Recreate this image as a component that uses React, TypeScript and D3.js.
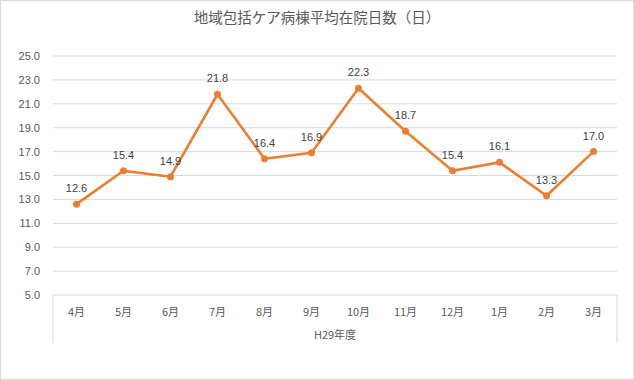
import React from "react";
import * as d3 from "d3";

const categories = ["4月", "5月", "6月", "7月", "8月", "9月", "10月", "11月", "12月", "1月", "2月", "3月"];
const values = [12.6, 15.4, 14.9, 21.8, 16.4, 16.9, 22.3, 18.7, 15.4, 16.1, 13.3, 17.0];
const yTicks = [5, 7, 9, 11, 13, 15, 17, 19, 21, 23, 25];
const title = "地域包括ケア病棟平均在院日数（日）";
const groupLabel = "H29年度";

const W = 634;
const H = 380;
const left = 53;
const right = 617;
const top = 56;
const bottom = 295;
const FONT = "'Liberation Sans', 'Noto Sans CJK JP', sans-serif";
const JFONT = "'Noto Sans CJK JP', sans-serif";

export default function App() {
  const x = d3.scaleBand<string>().domain(categories).range([left, right]);
  const y = d3.scaleLinear().domain([5, 25]).range([bottom, top]);
  const line = d3
    .line<number>()
    .x((_, i) => (x(categories[i]) as number) + x.bandwidth() / 2)
    .y((d) => y(d));

  return (
    <svg
      width={W}
      height={H}
      style={{ position: "absolute", left: 0, top: 0, background: "#fff" }}
    >
      <rect x={0.5} y={0.5} width={W - 1} height={H - 1} fill="#fff" stroke="#d9d9d9" />
      <text
        x={W / 2}
        y={23}
        textAnchor="middle"
        fontFamily={JFONT}
        fontSize={14.5}
        fill="#595959"
      >
        {title}
      </text>
      {yTicks.map((t) => (
        <g key={t}>
          {t !== 5 && (
            <line x1={left} x2={right} y1={y(t)} y2={y(t)} stroke="#d9d9d9" strokeWidth={1} />
          )}
          <text
            x={40}
            y={y(t) + 4}
            textAnchor="end"
            fontFamily={FONT}
            fontSize={11}
            fill="#595959"
          >
            {t.toFixed(1)}
          </text>
        </g>
      ))}
      {/* category axis box */}
      <line x1={left} x2={right} y1={bottom} y2={bottom} stroke="#d9d9d9" />
      <line x1={left} x2={left} y1={bottom} y2={343} stroke="#d9d9d9" />
      <line x1={right} x2={right} y1={bottom} y2={343} stroke="#d9d9d9" />
      {categories.map((c) => (
        <text
          key={c}
          x={(x(c) as number) + x.bandwidth() / 2}
          y={316}
          textAnchor="middle"
          fontFamily={JFONT}
          fontSize={11}
          fill="#595959"
        >
          {c}
        </text>
      ))}
      <text
        x={(left + right) / 2}
        y={339}
        textAnchor="middle"
        fontFamily={JFONT}
        fontSize={11}
        fill="#595959"
      >
        {groupLabel}
      </text>
      <path
        d={line(values) || ""}
        fill="none"
        stroke="#ED7D31"
        strokeWidth={2.6}
        strokeLinejoin="round"
      />
      {values.map((v, i) => {
        const cx = (x(categories[i]) as number) + x.bandwidth() / 2;
        return (
          <g key={i}>
            <circle cx={cx} cy={y(v)} r={3.5} fill="#ED7D31" />
            <text
              x={cx}
              y={y(v) - 12}
              textAnchor="middle"
              fontFamily={FONT}
              fontSize={11}
              fill="#404040"
            >
              {v.toFixed(1)}
            </text>
          </g>
        );
      })}
    </svg>
  );
}
